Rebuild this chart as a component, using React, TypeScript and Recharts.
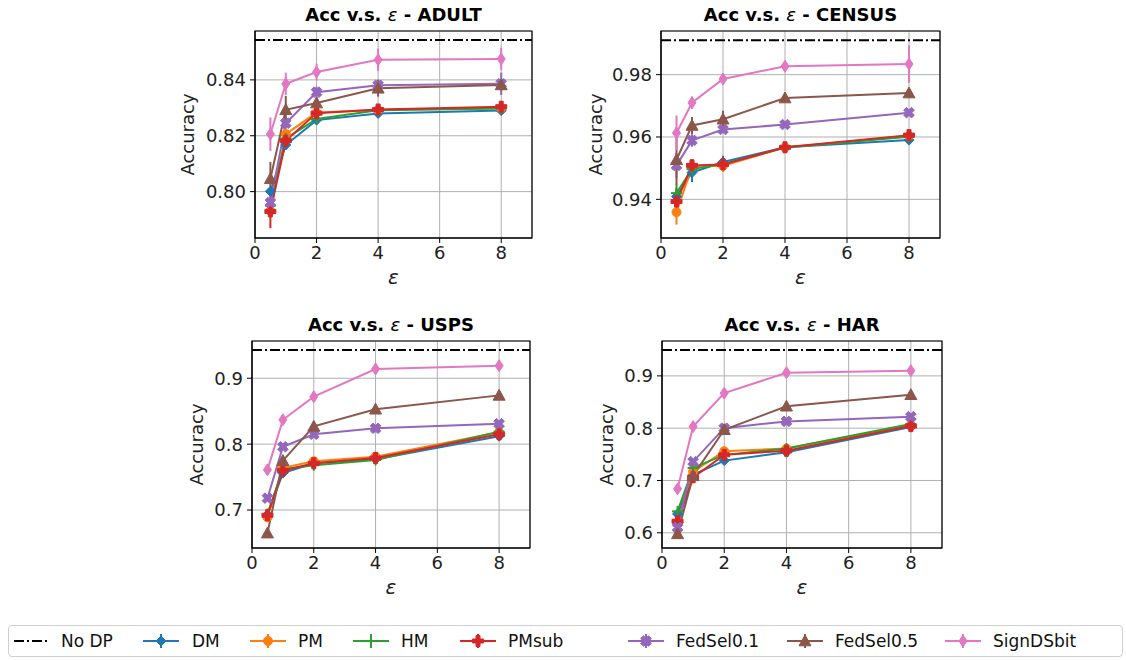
import React from 'react';
import {
  LineChart,
  Line,
  XAxis,
  YAxis,
  CartesianGrid,
  ReferenceLine,
  ReferenceArea,
  ErrorBar,
} from 'recharts';

// ---------------- data ----------------
const EPS = [0.5, 1, 2, 4, 8];
const X_TICKS = [0, 2, 4, 6, 8];
const SERIES_KEYS = ['DM', 'PM', 'HM', 'PMsub', 'FedSel01', 'FedSel05', 'SignDSbit'];
const SERIES_LABELS = ['DM', 'PM', 'HM', 'PMsub', 'FedSel0.1', 'FedSel0.5', 'SignDSbit'];
const COLORS = ['#1f77b4', '#ff7f0e', '#2ca02c', '#d62728', '#9467bd', '#8c564b', '#e377c2'];
const MARKERS = ['D', 'o', '+', 'P', 'X', '^', 'd'];

// rows follow SERIES_KEYS order, columns follow EPS
const ADULT_ACC = [
  [0.8001, 0.8167, 0.8256, 0.828, 0.829],
  [0.7931, 0.8206, 0.8283, 0.8292, 0.8299],
  [0.795, 0.819, 0.826, 0.8291, 0.8298],
  [0.7929, 0.8182, 0.8281, 0.8294, 0.8304],
  [0.7961, 0.8245, 0.8356, 0.8381, 0.8386],
  [0.8046, 0.8293, 0.8317, 0.837, 0.8382],
  [0.8206, 0.8386, 0.8428, 0.8472, 0.8475],
];
const ADULT_ERR = [
  [0.0015, 0.001, 0.001, 0.001, 0.001],
  [0.002, 0.001, 0.001, 0.001, 0.001],
  [0.002, 0.001, 0.001, 0.001, 0.001],
  [0.006, 0.002, 0.001, 0.002, 0.002],
  [0.002, 0.002, 0.002, 0.002, 0.004],
  [0.006, 0.005, 0.002, 0.003, 0.002],
  [0.006, 0.004, 0.003, 0.004, 0.004],
];
const ADULT_NODP = 0.8543;

const CENSUS_ACC = [
  [0.9409, 0.9486, 0.952, 0.9567, 0.959],
  [0.9359, 0.9505, 0.9508, 0.9566, 0.9603],
  [0.942, 0.9497, 0.9513, 0.9566, 0.9601],
  [0.9393, 0.9509, 0.9512, 0.9567, 0.9606],
  [0.9509, 0.9589, 0.9624, 0.964, 0.9678],
  [0.9527, 0.9637, 0.9657, 0.9725, 0.9741],
  [0.9613, 0.971, 0.9786, 0.9827, 0.9834],
];
const CENSUS_ERR = [
  [0.002, 0.003, 0.002, 0.001, 0.001],
  [0.004, 0.002, 0.002, 0.001, 0.001],
  [0.003, 0.002, 0.001, 0.001, 0.001],
  [0.004, 0.002, 0.001, 0.001, 0.001],
  [0.004, 0.002, 0.001, 0.001, 0.001],
  [0.008, 0.0027, 0.0027, 0.001, 0.001],
  [0.0056, 0.002, 0.001, 0.001, 0.006],
];
const CENSUS_NODP = 0.991;

const USPS_ACC = [
  [0.693, 0.756, 0.771, 0.777, 0.812],
  [0.689, 0.764, 0.774, 0.781, 0.818],
  [0.694, 0.762, 0.768, 0.776, 0.819],
  [0.692, 0.76, 0.771, 0.779, 0.815],
  [0.718, 0.796, 0.815, 0.824, 0.831],
  [0.665, 0.775, 0.827, 0.853, 0.874],
  [0.761, 0.837, 0.872, 0.914, 0.919],
];
const USPS_ERR = [
  [0.003, 0.003, 0.002, 0.002, 0.002],
  [0.003, 0.003, 0.002, 0.002, 0.002],
  [0.003, 0.003, 0.002, 0.002, 0.002],
  [0.003, 0.003, 0.002, 0.002, 0.002],
  [0.003, 0.003, 0.002, 0.002, 0.002],
  [0.003, 0.003, 0.002, 0.002, 0.002],
  [0.003, 0.003, 0.002, 0.002, 0.002],
];
const USPS_NODP = 0.943;

const HAR_ACC = [
  [0.636, 0.711, 0.738, 0.754, 0.802],
  [0.62, 0.717, 0.756, 0.761, 0.806],
  [0.641, 0.724, 0.749, 0.761, 0.808],
  [0.622, 0.706, 0.749, 0.757, 0.804],
  [0.61, 0.736, 0.8, 0.813, 0.822],
  [0.598, 0.709, 0.797, 0.842, 0.864],
  [0.684, 0.803, 0.867, 0.906, 0.91],
];
const HAR_ERR = [
  [0.003, 0.003, 0.002, 0.002, 0.002],
  [0.003, 0.003, 0.002, 0.002, 0.002],
  [0.003, 0.003, 0.002, 0.002, 0.002],
  [0.003, 0.003, 0.002, 0.002, 0.002],
  [0.003, 0.003, 0.002, 0.002, 0.002],
  [0.003, 0.003, 0.002, 0.002, 0.002],
  [0.003, 0.003, 0.002, 0.002, 0.002],
];
const HAR_NODP = 0.9495;

// ---------------- styling ----------------
const FONT = "'DejaVu Sans', Verdana, sans-serif";
const YW = 95; // y axis width
const XH = 50; // x axis height
const TM = 5;
const RM = 5;

function markerShape(shape: string, color: string, cx: number, cy: number, key?: any) {
  switch (shape) {
    case 'D': {
      const s = 5;
      return (
        <polygon key={key} points={`${cx},${cy - s} ${cx + s},${cy} ${cx},${cy + s} ${cx - s},${cy}`} fill={color} stroke={color} strokeWidth={1} />
      );
    }
    case 'd': {
      const w = 4;
      const h = 6;
      return (
        <polygon key={key} points={`${cx},${cy - h} ${cx + w},${cy} ${cx},${cy + h} ${cx - w},${cy}`} fill={color} stroke={color} strokeWidth={1} />
      );
    }
    case 'o':
      return <circle key={key} cx={cx} cy={cy} r={4.5} fill={color} stroke={color} />;
    case '+':
      return (
        <g key={key} stroke={color} strokeWidth={2}>
          <line x1={cx - 5.5} y1={cy} x2={cx + 5.5} y2={cy} />
          <line x1={cx} y1={cy - 5.5} x2={cx} y2={cy + 5.5} />
        </g>
      );
    case 'P': {
      const a = 5.5;
      const t = 2;
      const pts = [
        [-t, -a], [t, -a], [t, -t], [a, -t], [a, t], [t, t], [t, a], [-t, a], [-t, t], [-a, t], [-a, -t], [-t, -t],
      ]
        .map(([x, y]) => `${cx + x},${cy + y}`)
        .join(' ');
      return <polygon key={key} points={pts} fill={color} stroke={color} strokeWidth={1} />;
    }
    case 'X': {
      const a = 5.5;
      const t = 2;
      const c = Math.SQRT1_2;
      const pts = [
        [-t, -a], [t, -a], [t, -t], [a, -t], [a, t], [t, t], [t, a], [-t, a], [-t, t], [-a, t], [-a, -t], [-t, -t],
      ]
        .map(([x, y]) => `${cx + (x - y) * c},${cy + (x + y) * c}`)
        .join(' ');
      return <polygon key={key} points={pts} fill={color} stroke={color} strokeWidth={1} />;
    }
    case '^': {
      const s = 6;
      return (
        <polygon key={key} points={`${cx},${cy - s} ${cx + s},${cy + s * 0.8} ${cx - s},${cy + s * 0.8}`} fill={color} stroke={color} strokeWidth={1} />
      );
    }
    default:
      return <circle key={key} cx={cx} cy={cy} r={4} fill={color} />;
  }
}

const makeDot = (shape: string, color: string) => (props: any) => {
  const { cx, cy, index } = props;
  if (cx == null || cy == null) return <g key={`e-${index}`} />;
  return markerShape(shape, color, cx, cy, `m-${index}`);
};

type PanelProps = {
  name: string;
  acc: number[][];
  err: number[][];
  noDp: number;
  yDomain: [number, number];
  yTicks: number[];
  digits: number;
  plotLeft: number;
  plotTop: number;
  plotW: number;
  plotH: number;
  yLabelDist: number;
};

function Panel(p: PanelProps) {
  const data = EPS.map((e, i) => {
    const row: any = { eps: e };
    SERIES_KEYS.forEach((k, j) => {
      row[k] = p.acc[j][i];
      row[k + '_err'] = p.err[j][i];
    });
    return row;
  });
  const width = YW + p.plotW + RM;
  const height = TM + p.plotH + XH;
  const tickStyle = { fill: '#222', fontSize: 18, fontFamily: FONT };
  return (
    <>
      <div
        style={{
          position: 'absolute',
          left: p.plotLeft - 40,
          width: p.plotW + 80,
          top: p.plotTop - 27,
          height: 22,
          lineHeight: '22px',
          textAlign: 'center',
          fontFamily: FONT,
          fontWeight: 'bold',
          fontSize: 18,
          color: '#000',
        }}
      >
        Acc v.s. <span style={{ fontStyle: 'italic', fontWeight: 'normal' }}>ε</span> - {p.name}
      </div>
      <div style={{ position: 'absolute', left: p.plotLeft - YW, top: p.plotTop - TM }}>
        <LineChart width={width} height={height} data={data} margin={{ top: TM, right: RM, left: 0, bottom: 0 }}>
          <CartesianGrid stroke="#b0b0b0" strokeWidth={1} />
          <XAxis
            type="number"
            dataKey="eps"
            domain={[0, 9]}
            ticks={X_TICKS}
            allowDataOverflow
            height={XH}
            tick={tickStyle}
            tickSize={5}
            tickMargin={3}
            tickLine={{ stroke: '#000' }}
            axisLine={{ stroke: '#000' }}
            label={{
              value: 'ε',
              position: 'insideBottom',
              offset: 4,
              style: { fontSize: 20, fontStyle: 'italic', fill: '#222', fontFamily: FONT },
            }}
          />
          <YAxis
            type="number"
            domain={p.yDomain}
            ticks={p.yTicks}
            allowDataOverflow
            width={YW}
            tick={tickStyle}
            tickSize={5}
            tickMargin={4}
            tickLine={{ stroke: '#000' }}
            axisLine={{ stroke: '#000' }}
            tickFormatter={(v: number) => v.toFixed(p.digits)}
            label={{
              value: 'Accuracy',
              angle: -90,
              position: 'insideLeft',
              offset: YW - p.yLabelDist,
              style: { fontSize: 18, fill: '#222', fontFamily: FONT, textAnchor: 'middle' },
            }}
          />
          <ReferenceLine y={p.noDp} stroke="#000" strokeWidth={2} strokeDasharray="10 3 2 3" />
          {SERIES_KEYS.map((k, j) => (
            <Line
              key={k}
              dataKey={k}
              stroke={COLORS[j]}
              strokeWidth={2}
              dot={makeDot(MARKERS[j], COLORS[j])}
              activeDot={false}
              isAnimationActive={false}
            >
              <ErrorBar dataKey={k + '_err'} width={0} stroke={COLORS[j]} strokeWidth={2} direction="y" />
            </Line>
          ))}
          <ReferenceArea
            x1={0}
            x2={9}
            y1={p.yDomain[0]}
            y2={p.yDomain[1]}
            fill="none"
            fillOpacity={0}
            stroke="#000"
            strokeWidth={1.2}
            ifOverflow="visible"
          />
        </LineChart>
      </div>
    </>
  );
}

const LEGEND_LINE_X = [14, 143, 250, 353, 460, 628, 787, 945];
const LEGEND_TEXT_X = [61, 192, 298, 401, 508, 676, 835, 993];

function Legend() {
  const cy = 641;
  return (
    <>
      <div
        style={{
          position: 'absolute',
          left: 8,
          top: 625,
          width: 1115,
          height: 32,
          border: '1px solid #cfcfcf',
          borderRadius: 4,
          boxSizing: 'border-box',
          background: '#fff',
        }}
      />
      {['No DP', ...SERIES_LABELS].map((lab, i) => (
        <React.Fragment key={lab}>
          <svg
            width={36}
            height={20}
            style={{ position: 'absolute', left: LEGEND_LINE_X[i], top: cy - 10 }}
          >
            {i === 0 ? (
              <line x1={0} y1={10} x2={34} y2={10} stroke="#000" strokeWidth={2} strokeDasharray="10 3 2 3" />
            ) : (
              <g>
                <line x1={0} y1={10} x2={36} y2={10} stroke={COLORS[i - 1]} strokeWidth={2} />
                <line x1={18} y1={3} x2={18} y2={17} stroke={COLORS[i - 1]} strokeWidth={2} />
                {markerShape(MARKERS[i - 1], COLORS[i - 1], 18, 10)}
              </g>
            )}
          </svg>
          <div
            style={{
              position: 'absolute',
              left: LEGEND_TEXT_X[i],
              top: cy - 11,
              height: 22,
              lineHeight: '22px',
              fontFamily: FONT,
              fontSize: 17,
              color: '#111',
              whiteSpace: 'nowrap',
            }}
          >
            {lab}
          </div>
        </React.Fragment>
      ))}
    </>
  );
}

export default function App() {
  return (
    <div
      style={{
        position: 'absolute',
        left: 0,
        top: 0,
        width: 1126,
        height: 660,
        background: '#fff',
        overflow: 'hidden',
      }}
    >
      <Panel
        name="ADULT"
        acc={ADULT_ACC}
        err={ADULT_ERR}
        noDp={ADULT_NODP}
        yDomain={[0.7834, 0.8575]}
        yTicks={[0.8, 0.82, 0.84]}
        digits={2}
        plotLeft={255}
        plotTop={31}
        plotW={277}
        plotH={207}
        yLabelDist={67}
      />
      <Panel
        name="CENSUS"
        acc={CENSUS_ACC}
        err={CENSUS_ERR}
        noDp={CENSUS_NODP}
        yDomain={[0.9276, 0.994]}
        yTicks={[0.94, 0.96, 0.98]}
        digits={2}
        plotLeft={661}
        plotTop={31}
        plotW={279}
        plotH={207}
        yLabelDist={65}
      />
      <Panel
        name="USPS"
        acc={USPS_ACC}
        err={USPS_ERR}
        noDp={USPS_NODP}
        yDomain={[0.6424, 0.9565]}
        yTicks={[0.7, 0.8, 0.9]}
        digits={1}
        plotLeft={252}
        plotTop={341}
        plotW={278}
        plotH={207}
        yLabelDist={55}
      />
      <Panel
        name="HAR"
        acc={HAR_ACC}
        err={HAR_ERR}
        noDp={HAR_NODP}
        yDomain={[0.5709, 0.9667]}
        yTicks={[0.6, 0.7, 0.8, 0.9]}
        digits={1}
        plotLeft={662}
        plotTop={341}
        plotW={280}
        plotH={207}
        yLabelDist={55}
      />
      <Legend />
    </div>
  );
}
